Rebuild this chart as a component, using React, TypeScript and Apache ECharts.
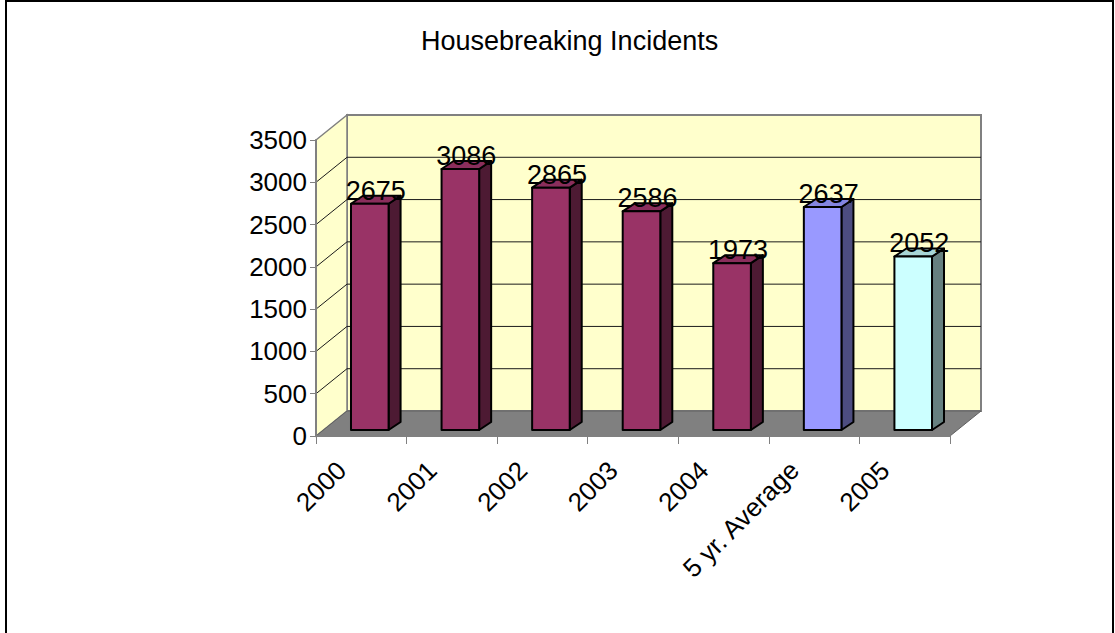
import React, { useEffect, useRef } from "react";
import * as echarts from "echarts";

const categories = ["2000", "2001", "2002", "2003", "2004", "5 yr. Average", "2005"];
const values = [2675, 3086, 2865, 2586, 1973, 2637, 2052];
const yTicks = [0, 500, 1000, 1500, 2000, 2500, 3000, 3500];
const frontColors = ["#993366", "#993366", "#993366", "#993366", "#993366", "#9999FF", "#CCFFFF"];
const sideColors = ["#4D1A33", "#4D1A33", "#4D1A33", "#4D1A33", "#4D1A33", "#4D4D80", "#668080"];
const topColors = ["#8A2E5C", "#8A2E5C", "#8A2E5C", "#8A2E5C", "#8A2E5C", "#8585E0", "#A8D6D6"];

const FONT = "'Liberation Sans', Arial, sans-serif";
const DX = 31;
const DY = -25;
const BAR_OFF_X = 8.5;
const BAR_OFF_Y = -6;
const BAR_DX = 12;
const BAR_DY = -8;

export default function App() {
  const ref = useRef<HTMLDivElement>(null);
  useEffect(() => {
    if (!ref.current) return;
    const chart = echarts.init(ref.current, null, { renderer: "svg" });
    const option: any = {
      animation: false,
      backgroundColor: "#ffffff",
      title: {
        text: "Housebreaking Incidents",
        left: 416,
        top: 22,
        textStyle: { fontSize: 27, fontWeight: "normal", color: "#000", fontFamily: FONT },
      },
      graphic: [
        {
          type: "rect",
          shape: { x: 6, y: 1, width: 1107, height: 700 },
          style: { fill: "none", stroke: "#000", lineWidth: 2 },
          silent: true,
        },
      ],
      grid: { left: 316, top: 140, width: 634, height: 296, containLabel: false },
      xAxis: {
        type: "category",
        data: categories,
        z: 5,
        axisLine: { show: true, lineStyle: { color: "#808080", width: 2 } },
        axisTick: { show: true, length: 8, lineStyle: { color: "#808080", width: 1 } },
        axisLabel: {
          rotate: 45,
          fontSize: 26,
          color: "#000",
          fontFamily: FONT,
          margin: 10,
          interval: 0,
          padding: [0, 28, 0, 0],
        },
        splitLine: { show: false },
      },
      yAxis: {
        type: "value",
        min: 0,
        max: 3500,
        interval: 500,
        z: 5,
        axisLine: { show: true, lineStyle: { color: "#808080", width: 2 } },
        axisTick: { show: true, length: 6, lineStyle: { color: "#808080", width: 1 } },
        axisLabel: {
          fontSize: 26,
          color: "#000",
          fontFamily: FONT,
          margin: 9,
          formatter: (v: number) => String(v),
        },
        splitLine: { show: false },
      },
      series: [
        {
          type: "custom",
          z: 1,
          silent: true,
          data: [[0, 0]],
          renderItem: (params: any, api: any) => {
            const cs = params.coordSys;
            const x0 = cs.x;
            const x1 = cs.x + cs.width;
            const yT = cs.y;
            const yB = cs.y + cs.height;
            const children: any[] = [];
            children.push({
              type: "polygon",
              shape: { points: [[x0 + DX, yT + DY], [x1 + DX, yT + DY], [x1 + DX, yB + DY], [x0 + DX, yB + DY]] },
              style: { fill: "#FFFFCC", stroke: "#808080", lineWidth: 2 },
            });
            children.push({
              type: "polygon",
              shape: { points: [[x0, yT], [x0 + DX, yT + DY], [x0 + DX, yB + DY], [x0, yB]] },
              style: { fill: "#FFFFCC", stroke: "#808080", lineWidth: 1.5 },
            });
            yTicks.forEach((v) => {
              if (v === 0 || v === 3500) return;
              const y = api.coord([0, v])[1];
              children.push({
                type: "line",
                shape: { x1: x0 + DX, y1: y + DY, x2: x1 + DX, y2: y + DY },
                style: { stroke: "#1a1a1a", lineWidth: 1 },
              });
              children.push({
                type: "line",
                shape: { x1: x0, y1: y, x2: x0 + DX, y2: y + DY },
                style: { stroke: "#1a1a1a", lineWidth: 1 },
              });
            });
            children.push({
              type: "polygon",
              shape: { points: [[x0, yB], [x1, yB], [x1 + DX, yB + DY], [x0 + DX, yB + DY]] },
              style: { fill: "#808080", stroke: "#606060", lineWidth: 1 },
            });
            return { type: "group", children };
          },
        },
        {
          type: "custom",
          z: 3,
          silent: true,
          data: values.map((v, i) => [i, v]),
          renderItem: (params: any, api: any) => {
            const idx = api.value(0);
            const val = api.value(1);
            const topPt = api.coord([idx, val]);
            const basePt = api.coord([idx, 0]);
            const bw = api.size([1, 0])[0] * 0.415;
            const cx = topPt[0] + BAR_OFF_X;
            const l = cx - bw / 2;
            const r = cx + bw / 2;
            const t = topPt[1] + BAR_OFF_Y;
            const b = basePt[1] + BAR_OFF_Y;
            const stroke = { stroke: "#000", lineWidth: 2, lineJoin: "round" };
            return {
              type: "group",
              children: [
                {
                  type: "polygon",
                  shape: { points: [[r, t], [r + BAR_DX, t + BAR_DY], [r + BAR_DX, b + BAR_DY], [r, b]] },
                  style: { fill: sideColors[idx], ...stroke },
                },
                {
                  type: "polygon",
                  shape: { points: [[l, t], [l + BAR_DX, t + BAR_DY], [r + BAR_DX, t + BAR_DY], [r, t]] },
                  style: { fill: topColors[idx], ...stroke },
                },
                {
                  type: "rect",
                  shape: { x: l, y: t, width: r - l, height: b - t },
                  style: { fill: frontColors[idx], ...stroke },
                },
                {
                  type: "text",
                  style: {
                    text: String(val),
                    x: cx + BAR_DX / 2,
                    y: t - 13,
                    align: "center",
                    verticalAlign: "middle",
                    fontSize: 27,
                    fontFamily: FONT,
                    fill: "#000",
                  },
                },
              ],
            };
          },
        },
      ],
    };
    chart.setOption(option);
    return () => chart.dispose();
  }, []);
  return (
    <div
      ref={ref}
      style={{ position: "fixed", left: 0, top: 0, width: 1115, height: 633 }}
    />
  );
}
